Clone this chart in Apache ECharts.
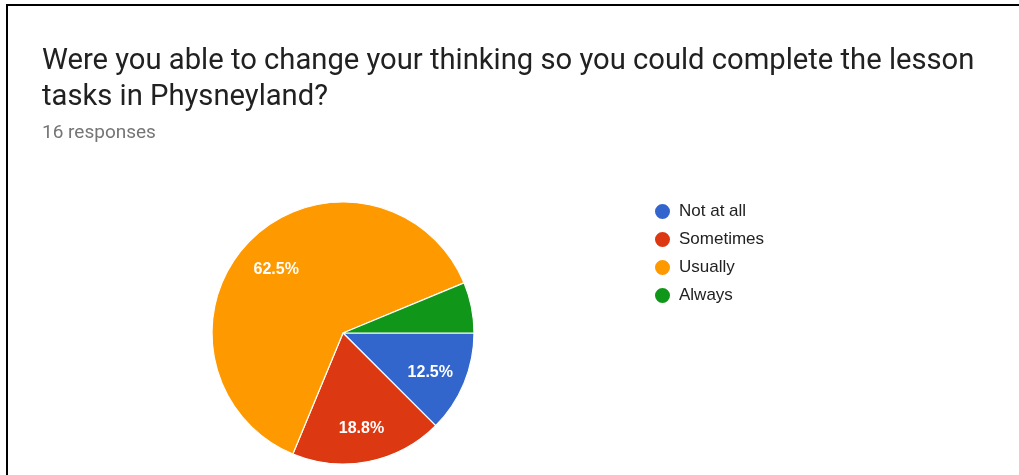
<!DOCTYPE html>
<html>
<head>
<meta charset="utf-8">
<script src="https://cdn.jsdelivr.net/npm/echarts@6/dist/echarts.min.js"></script>
<style>
  html, body { margin: 0; padding: 0; background: #fff; }
  #chart { width: 1019px; height: 475px; }
</style>
</head>
<body>
<div id="chart"></div>
<script>
// Survey answers and response counts
const categories = ['Not at all', 'Sometimes', 'Usually', 'Always'];
const counts = [2, 3, 10, 1];
const colors = ['#3366cc', '#dc3912', '#ff9900', '#109618'];
const questionLines = [
  'Were you able to change your thinking so you could complete the lesson',
  'tasks in Physneyland?'
];
const responseNote = '16 responses';

const total = counts.reduce((a, b) => a + b, 0);
const pieData = categories.map((name, i) => ({ name, value: counts[i] }));

const chart = echarts.init(document.getElementById('chart'), null, { renderer: 'canvas' });

const center = [343, 333];
const radius = 131;

chart.setOption({
  animation: false,
  color: colors,
  title: [
    {
      text: questionLines.join('\n'),
      left: 42,
      top: 44,
      padding: 0,
      textStyle: {
        fontFamily: 'Roboto',
        fontSize: 29.2,
        fontWeight: 'normal',
        lineHeight: 36,
        color: '#212121'
      }
    },
    {
      text: responseNote,
      left: 42,
      top: 124,
      padding: 0,
      textStyle: {
        fontFamily: 'Roboto',
        fontSize: 19,
        fontWeight: 'normal',
        color: '#757575'
      }
    }
  ],
  legend: {
    orient: 'vertical',
    left: 648,
    top: 197,
    icon: 'circle',
    itemWidth: 17,
    itemHeight: 17,
    itemGap: 9,
    data: categories,
    selectedMode: false,
    textStyle: {
      fontFamily: 'Liberation Sans, Arial, sans-serif',
      fontSize: 17,
      lineHeight: 17,
      color: '#222222',
      padding: [0, 0, 0, 3]
    }
  },
  series: [
    {
      type: 'pie',
      center: center,
      radius: [0, radius],
      startAngle: 0,
      clockwise: true,
      data: pieData,
      label: { show: false },
      labelLine: { show: false },
      emphasis: { disabled: true },
      itemStyle: { borderColor: '#ffffff', borderWidth: 1.2 }
    },
    {
      // label ring: carries the percentage text at ~0.7 of the radius
      type: 'pie',
      center: center,
      radius: [52, radius],
      startAngle: 0,
      clockwise: true,
      silent: true,
      legendHoverLink: false,
      data: pieData,
      itemStyle: { color: 'transparent', borderWidth: 0 },
      emphasis: { disabled: true },
      labelLine: { show: false },
      label: {
        show: true,
        position: 'inside',
        color: '#ffffff',
        fontFamily: 'Liberation Sans, Arial, sans-serif',
        fontWeight: 'bold',
        fontSize: 16,
        offset: [0, 3],
        formatter: (p) => {
          const pct = p.value / total * 100;
          return pct >= 10 ? pct.toFixed(1) + '%' : '';
        }
      }
    }
  ],
  graphic: [
    {
      type: 'polyline',
      shape: { points: [[7, 475], [7, 5], [1019, 5]] },
      style: { stroke: '#000000', lineWidth: 2, fill: null }
    }
  ]
});
</script>
</body>
</html>
